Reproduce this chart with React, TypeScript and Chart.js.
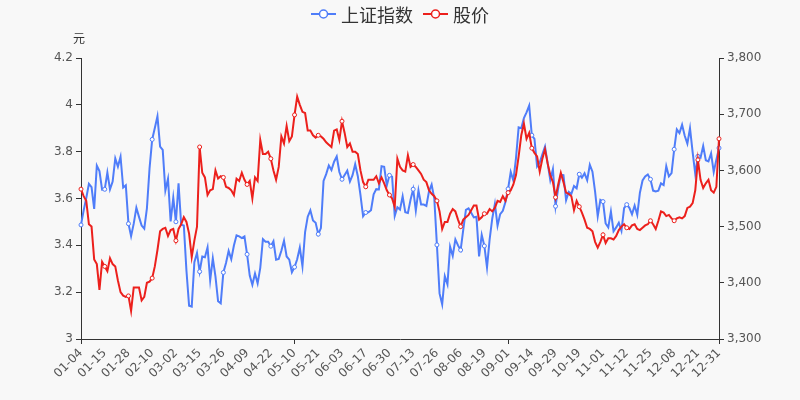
import React, { useEffect, useRef } from 'react';
import { Chart, registerables } from 'chart.js';

Chart.register(...registerables);

const dates: string[] = [
  '01-04','01-05','01-06','01-07','01-08','01-11','01-12','01-13','01-14','01-15','01-18','01-19','01-20','01-21','01-22','01-25','01-26','01-27','01-28','01-29',
  '02-01','02-02','02-03','02-04','02-05','02-08','02-09','02-10','02-18','02-19','02-22','02-23','02-24','02-25','02-26',
  '03-01','03-02','03-03','03-04','03-05','03-08','03-09','03-10','03-11','03-12','03-15','03-16','03-17','03-18','03-19','03-22','03-23','03-24','03-25','03-26','03-29','03-30','03-31',
  '04-01','04-02','04-06','04-07','04-08','04-09','04-12','04-13','04-14','04-15','04-16','04-19','04-20','04-21','04-22','04-23','04-26','04-27','04-28','04-29','04-30',
  '05-06','05-07','05-10','05-11','05-12','05-13','05-14','05-17','05-18','05-19','05-20','05-21','05-24','05-25','05-26','05-27','05-28','05-31',
  '06-01','06-02','06-03','06-04','06-07','06-08','06-09','06-10','06-11','06-15','06-16','06-17','06-18','06-21','06-22','06-23','06-24','06-25','06-28','06-29','06-30',
  '07-01','07-02','07-05','07-06','07-07','07-08','07-09','07-12','07-13','07-14','07-15','07-16','07-19','07-20','07-21','07-22','07-23','07-26','07-27','07-28','07-29','07-30',
  '08-02','08-03','08-04','08-05','08-06','08-09','08-10','08-11','08-12','08-13','08-16','08-17','08-18','08-19','08-20','08-23','08-24','08-25','08-26','08-27','08-30','08-31',
  '09-01','09-02','09-03','09-06','09-07','09-08','09-09','09-10','09-13','09-14','09-15','09-16','09-17','09-22','09-23','09-24','09-27','09-28','09-29','09-30',
  '10-08','10-11','10-12','10-13','10-14','10-15','10-18','10-19','10-20','10-21','10-22','10-25','10-26','10-27','10-28','10-29',
  '11-01','11-02','11-03','11-04','11-05','11-08','11-09','11-10','11-11','11-12','11-15','11-16','11-17','11-18','11-19','11-22','11-23','11-24','11-25','11-26','11-29','11-30',
  '12-01','12-02','12-03','12-06','12-07','12-08','12-09','12-10','12-13','12-14','12-15','12-16','12-17','12-20','12-21','12-22','12-23','12-24','12-27','12-28','12-29','12-30','12-31',
];

// 上证指数 (right axis)
const shIndex: number[] = [
  3502.96,3528.68,3550.88,3576.20,3570.11,3531.50,3608.34,3598.65,3565.90,3566.38,3596.22,3566.38,3580.00,3621.26,3606.75,3624.24,3569.43,3573.34,3505.18,3483.07,
  3505.28,3533.68,3517.31,3501.86,3496.33,3532.44,3603.49,3655.09,3675.36,3696.17,3642.44,3636.36,3564.08,3585.05,3509.08,
  3551.40,3508.59,3576.90,3503.49,3501.99,3421.41,3359.29,3357.74,3436.83,3453.08,3419.95,3446.73,3445.55,3463.07,3404.66,3443.44,3411.51,3367.06,3363.59,3418.33,3435.30,3456.68,3441.91,
  3466.33,3484.39,3482.48,3479.63,3482.55,3450.68,3412.95,3396.47,3416.55,3398.99,3426.62,3477.55,3472.94,3472.93,3465.11,3474.17,3441.17,3442.61,3457.07,3474.90,3446.86,
  3441.28,3418.87,3427.99,3441.85,3462.75,3429.54,3490.38,3517.62,3529.01,3510.96,3506.94,3486.56,3497.28,3581.34,3593.36,3608.85,3600.78,3615.48,
  3624.71,3597.14,3584.22,3591.84,3599.54,3580.11,3591.40,3610.86,3589.75,3556.56,3518.33,3525.10,3525.60,3529.18,3557.41,3566.65,3566.22,3607.56,3606.37,3573.18,3591.20,
  3588.78,3518.76,3534.32,3530.26,3553.72,3525.50,3524.09,3547.84,3566.48,3528.50,3564.59,3539.30,3539.12,3536.79,3562.71,3574.73,3550.40,3467.44,3381.18,3361.59,3411.72,3397.36,
  3464.29,3447.99,3477.22,3466.56,3458.23,3494.63,3529.93,3532.62,3524.74,3516.30,3517.35,3446.98,3485.29,3465.55,3427.33,3477.13,3514.47,3540.38,3501.66,3522.16,3528.15,3543.94,
  3567.10,3597.04,3581.73,3621.86,3676.59,3675.19,3693.13,3703.11,3715.37,3662.60,3656.22,3607.09,3613.97,3628.49,3642.22,3613.07,3582.83,3602.22,3536.29,3568.17,
  3592.17,3591.71,3546.94,3561.76,3558.28,3572.37,3568.14,3593.15,3587.00,3594.78,3582.60,3609.86,3597.64,3562.31,3518.42,3547.34,
  3544.48,3505.63,3498.54,3526.87,3491.57,3498.63,3507.00,3492.46,3532.79,3539.10,3533.30,3521.79,3537.37,3520.71,3560.37,3582.08,3589.09,3592.70,3584.18,3564.09,3562.70,3563.89,
  3576.89,3573.84,3607.43,3589.31,3595.09,3637.57,3673.04,3666.35,3681.08,3661.53,3647.63,3675.02,3632.36,3593.60,3625.13,3622.62,3643.34,3618.05,3615.97,3630.11,3597.00,3619.19,3639.78,
];

// 股价 (left axis, 元)
const stockPrice: number[] = [
  3.64,3.61,3.59,3.49,3.48,3.34,3.32,3.21,3.33,3.31,3.29,3.345,3.32,3.31,3.25,3.20,3.185,3.18,3.184,3.12,
  3.22,3.22,3.22,3.165,3.18,3.24,3.245,3.26,3.31,3.38,3.46,3.47,3.475,3.44,3.465,
  3.47,3.42,3.47,3.49,3.52,3.50,3.45,3.35,3.42,3.48,3.82,3.71,3.69,3.615,3.635,3.64,3.72,3.685,3.695,3.69,3.65,3.645,3.635,
  3.615,3.685,3.675,3.71,3.68,3.66,3.675,3.60,3.69,3.675,3.85,3.79,3.79,3.80,3.77,3.72,3.68,3.735,3.865,3.835,3.91,
  3.845,3.865,3.957,4.035,4.00,3.97,3.965,3.89,3.89,3.87,3.86,3.87,3.865,3.855,3.84,3.83,3.82,3.89,
  3.895,3.85,3.93,3.88,3.82,3.835,3.80,3.80,3.79,3.72,3.67,3.65,3.68,3.68,3.68,3.695,3.665,3.69,3.665,3.635,3.615,
  3.60,3.565,3.77,3.735,3.72,3.715,3.785,3.735,3.745,3.735,3.72,3.705,3.68,3.67,3.635,3.62,3.61,3.59,3.545,3.47,3.50,3.50,
  3.535,3.555,3.545,3.51,3.48,3.51,3.52,3.53,3.55,3.57,3.57,3.51,3.52,3.535,3.535,3.555,3.545,3.56,3.59,3.585,3.61,3.59,
  3.625,3.635,3.66,3.70,3.78,3.87,3.92,3.855,3.88,3.815,3.795,3.78,3.715,3.77,3.81,3.75,3.70,3.67,3.605,3.66,
  3.71,3.67,3.625,3.62,3.61,3.55,3.59,3.565,3.54,3.51,3.475,3.47,3.46,3.415,3.39,3.415,
  3.445,3.41,3.43,3.43,3.425,3.44,3.465,3.48,3.49,3.475,3.47,3.485,3.49,3.47,3.465,3.475,3.485,3.49,3.505,3.49,3.47,3.505,
  3.545,3.54,3.525,3.53,3.515,3.505,3.515,3.52,3.515,3.525,3.56,3.565,3.58,3.635,3.765,3.68,3.645,3.665,3.68,3.635,3.625,3.65,3.855,
];

const seriesNames = ['上证指数', '股价'];
const seriesColors = ['#4f7df9', '#ec201c'];
const LABEL_STEP = 9;
const LAST = dates.length - 1;

const isLabelled = (i: number) => i % LABEL_STEP === 0 || i === LAST;

const bgPlugin = {
  id: 'bg',
  beforeDraw(chart: any) {
    const ctx = chart.ctx;
    ctx.save();
    ctx.fillStyle = '#f8f8f8';
    ctx.fillRect(0, 0, chart.width, chart.height);
    ctx.restore();
  },
};

const legendPlugin = {
  id: 'lineLegend',
  afterDraw(chart: any) {
    const ctx = chart.ctx;
    const ds = chart.data.datasets;
    ctx.save();
    ctx.font = '18px "Noto Sans CJK SC", sans-serif';
    const itemW = 25, textGap = 5, itemGap = 10;
    const widths = ds.map((d: any) => ctx.measureText(d.label).width);
    let total = 0;
    widths.forEach((w: number, i: number) => { total += itemW + textGap + w + (i ? itemGap : 0); });
    let x = (chart.width - total) / 2;
    const y = 14;
    ds.forEach((d: any, i: number) => {
      ctx.strokeStyle = d.borderColor;
      ctx.lineWidth = 2;
      ctx.beginPath();
      ctx.moveTo(x, y);
      ctx.lineTo(x + itemW, y);
      ctx.stroke();
      ctx.beginPath();
      ctx.arc(x + itemW / 2, y, 4, 0, Math.PI * 2);
      ctx.fillStyle = '#fff';
      ctx.fill();
      ctx.lineWidth = 1.5;
      ctx.stroke();
      ctx.fillStyle = '#333';
      ctx.textBaseline = 'middle';
      ctx.textAlign = 'left';
      ctx.fillText(d.label, x + itemW + textGap, y + 1);
      x += itemW + textGap + widths[i] + itemGap;
    });
    // left axis unit
    const left = chart.chartArea.left;
    ctx.font = '12px "Noto Sans CJK SC", sans-serif';
    ctx.fillStyle = '#333';
    ctx.textAlign = 'center';
    ctx.fillText('元', left - 2, 38);
    ctx.restore();
  },
};

export default function App() {
  const ref = useRef<HTMLCanvasElement | null>(null);

  useEffect(() => {
    document.body.style.margin = '0';
    const canvas = ref.current;
    if (!canvas) return;
    const tickFont = { family: '"DejaVu Sans", sans-serif', size: 12 };
    const pointR = (c: any) => (isLabelled(c.dataIndex) ? 2 : 0);
    const chart = new Chart(canvas, {
      type: 'line',
      data: {
        labels: dates,
        datasets: [
          {
            label: seriesNames[0],
            data: shIndex,
            yAxisID: 'yR',
            borderColor: seriesColors[0],
            backgroundColor: seriesColors[0],
            borderWidth: 2,
            pointRadius: pointR,
            pointBackgroundColor: '#fff',
            pointBorderColor: seriesColors[0],
            pointBorderWidth: 1,
            pointHoverRadius: 0,
            tension: 0,
            order: 2,
          },
          {
            label: seriesNames[1],
            data: stockPrice,
            yAxisID: 'yL',
            borderColor: seriesColors[1],
            backgroundColor: seriesColors[1],
            borderWidth: 2,
            pointRadius: pointR,
            pointBackgroundColor: '#fff',
            pointBorderColor: seriesColors[1],
            pointBorderWidth: 1,
            pointHoverRadius: 0,
            tension: 0,
            order: 1,
          },
        ],
      },
      options: {
        responsive: false,
        animation: false,
        layout: { padding: { top: 58, left: 0, right: 0, bottom: 0 } },
        plugins: { legend: { display: false }, tooltip: { enabled: false }, title: { display: false } },
        scales: {
          x: {
            type: 'category',
            offset: false,
            grid: {
              display: true,
              drawOnChartArea: false,
              drawTicks: true,
              tickLength: 5,
              tickColor: (c: any) => (isLabelled(c.index) ? '#333' : 'rgba(0,0,0,0)'),
            },
            border: { display: true, color: '#333', width: 1 },
            ticks: {
              autoSkip: false,
              maxRotation: 45,
              minRotation: 45,
              padding: 2,
              color: '#555',
              font: tickFont,
              callback: (_v: any, i: number) => (isLabelled(i) ? dates[i] : null),
            },
            afterFit: (s: any) => { s.height = 61; },
          },
          yL: {
            type: 'linear',
            position: 'left',
            min: 3,
            max: 4.2,
            grid: { display: true, drawOnChartArea: false, tickLength: 5, tickColor: '#333' },
            border: { display: true, color: '#333', width: 1 },
            ticks: {
              stepSize: 0.2,
              padding: 3,
              color: '#555',
              font: tickFont,
              callback: (v: any) => String(Number(Number(v).toFixed(1))),
            },
            afterFit: (s: any) => { s.width = 81; },
          },
          yR: {
            type: 'linear',
            position: 'right',
            min: 3300,
            max: 3800,
            grid: { display: true, drawOnChartArea: false, tickLength: 5, tickColor: '#333' },
            border: { display: true, color: '#333', width: 1 },
            ticks: {
              stepSize: 100,
              padding: 3,
              color: '#555',
              font: tickFont,
              callback: (v: any) => Number(v).toLocaleString('en-US'),
            },
            afterFit: (s: any) => { s.width = 81; },
          },
        },
      },
      plugins: [bgPlugin, legendPlugin],
    } as any);
    return () => chart.destroy();
  }, []);

  return (
    <div style={{ width: 800, height: 400 }}>
      <canvas ref={ref} width={800} height={400} style={{ display: 'block' }} />
    </div>
  );
}
